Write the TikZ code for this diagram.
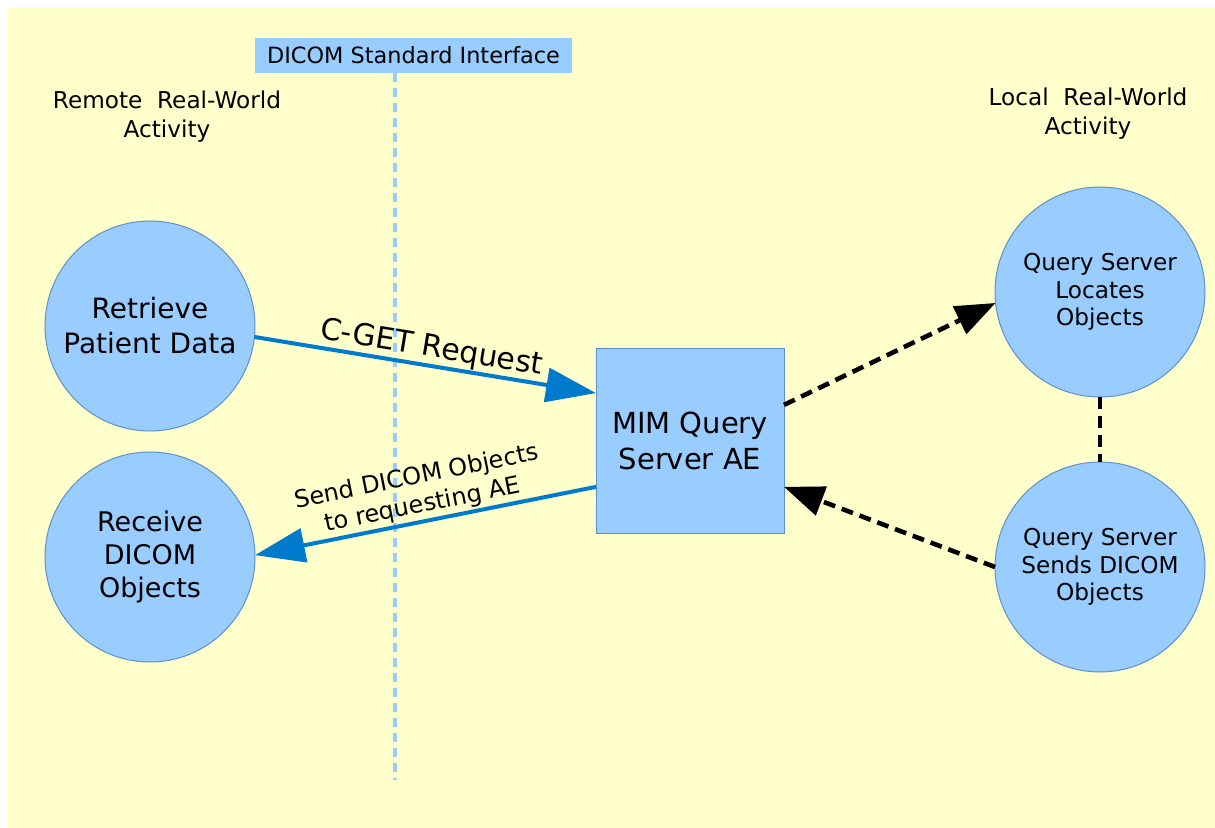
\documentclass[tikz,border=0pt]{standalone}
\usepackage{fontspec}
\setmainfont{DejaVu Sans}
\usetikzlibrary{arrows.meta,calc}
\definecolor{bgyellow}{RGB}{255,255,204}
\definecolor{lightblue}{RGB}{153,204,255}
\definecolor{edgeblue}{RGB}{95,145,200}
\definecolor{arrowblue}{RGB}{0,122,204}
\begin{document}
\begin{tikzpicture}[x=0.5pt,y=-0.5pt,
  activity/.style={circle, fill=lightblue, draw=edgeblue, line width=0.5pt, minimum size=105pt, inner sep=0pt, outer sep=0pt, align=center},
  aebox/.style={rectangle, fill=lightblue, draw=edgeblue, line width=0.5pt, minimum width=94pt, minimum height=92pt, inner sep=0pt, outer sep=0pt, align=center},
  caption/.style={align=center, font=\fontsize{11.6}{14.5}\selectfont, inner sep=0pt},
  edgelabel/.style={text=black, sloped, above, align=center},
  bluearrow/.style={arrowblue, line width=2pt, -{Triangle[length=25pt,width=17pt]}},
  bluearrowrev/.style={arrowblue, line width=2pt, {Triangle[length=25pt,width=17pt]}-},
  blackdash/.style={black, line width=2.3pt, dash pattern=on 6pt off 3.5pt},
  blackarrow/.style={blackdash, -{Triangle[length=20pt,width=15pt]}},
  ifline/.style={lightblue, line width=2.2pt, dash pattern=on 4.5pt off 3pt}
]
\useasboundingbox (0,0) rectangle (1215,828);
\fill[bgyellow] (8,7) rectangle (1215,828);

% interface line and label
\node[fill=lightblue, minimum width=158.5pt, minimum height=17.5pt, inner sep=0pt, font=\fontsize{11.2}{13}\selectfont] (iface) at (413.5,55.5) {DICOM Standard Interface};
\coordinate (ifend) at (395,780);
\draw[ifline] (iface.south -| ifend) -- (ifend);

% side captions
\node[caption] (remote) at (167,117) {Remote~ Real-World\\Activity};
\node[caption] (local) at (1088,114) {Local~ Real-World\\Activity};

% activities
\node[activity, font=\fontsize{14}{17.5}\selectfont] (ret) at (150,326) {Retrieve\\Patient Data};
\node[activity, font=\fontsize{13.5}{16.3}\selectfont] (rec) at (150,557) {Receive\\DICOM\\Objects};
\node[aebox, font=\fontsize{14.5}{18}\selectfont] (mim) at (690,441) {MIM Query\\Server AE};
\node[activity, font=\fontsize{11.6}{13.8}\selectfont] (loc) at (1100,292) {Query Server\\Locates\\Objects};
\node[activity, font=\fontsize{11.6}{13.8}\selectfont] (snd) at (1100,567) {Query Server\\Sends DICOM\\Objects};

% connectors
\draw[bluearrow] (ret.-6) -- (mim.153.9)
  node[edgelabel, pos=0.51, inner sep=0.5pt, font=\fontsize{15}{17}\selectfont] (cget) {C-GET Request};
\draw[bluearrowrev] (rec.1) -- (mim.206.1)
  node[edgelabel, pos=0.5, inner sep=1pt, font=\fontsize{12}{14.5}\selectfont] (sendlbl) {Send DICOM Objects\\to requesting AE};
\draw[blackarrow] (mim.21.2) -- (loc.186);
\draw[blackarrow] (snd.west) -- (mim.-26.3);
\draw[blackdash] (loc.south) -- (snd.north);
\end{tikzpicture}
\end{document}
